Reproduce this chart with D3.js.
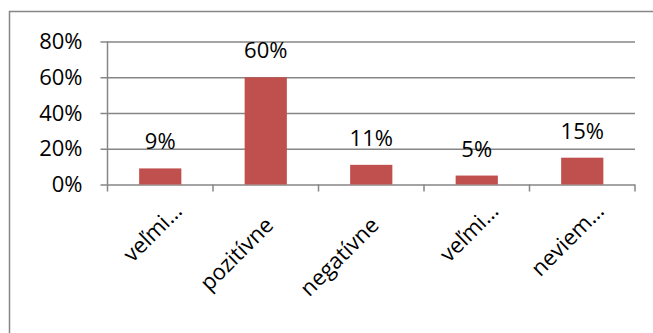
<!DOCTYPE html>
<html>
<head>
<meta charset="utf-8">
<script src="https://cdn.jsdelivr.net/npm/d3@7"></script>
<style>
  body { margin: 0; background: #fff; }
  text { font-family: "Open Sans", sans-serif; fill: #000; }
</style>
</head>
<body>
<div id="chart"></div>
<script>
// data
var categories = ["veľmi…", "pozitívne", "negatívne", "veľmi…", "neviem…"];
var values     = [0.09, 0.60, 0.11, 0.05, 0.15];
var yTicks     = [0, 0.2, 0.4, 0.6, 0.8];

var W = 653, H = 333;
var margin = {top: 41.5, right: 18, bottom: 148.5, left: 107.5};
var width  = W - margin.left - margin.right,
    height = H - margin.top - margin.bottom;
var fontSize = "22px";

var svg = d3.select("#chart").append("svg")
    .attr("width", W)
    .attr("height", H);

// outer chart frame (runs off right and bottom edge)
svg.append("rect")
    .attr("x", 9.5).attr("y", 11.5)
    .attr("width", 700).attr("height", 400)
    .attr("fill", "none")
    .attr("stroke", "#868686")
    .attr("stroke-width", 1.5);

var g = svg.append("g")
    .attr("transform", "translate(" + margin.left + "," + margin.top + ")");

var x = d3.scaleBand().domain(d3.range(categories.length)).range([0, width]).paddingInner(0.6).paddingOuter(0.3);
var xb = d3.scaleBand().domain(d3.range(categories.length)).range([0, width]);
var y = d3.scaleLinear().domain([0, 0.8]).range([height, 0]);

// gridlines + y axis
var yAxis = d3.axisLeft(y)
    .tickValues(yTicks)
    .tickFormat(d3.format(".0%"))
    .tickSize(-width)
    .tickPadding(25);

var yAxisEl = g.append("g").call(yAxis);
yAxisEl.select(".domain").remove();
yAxisEl.selectAll(".tick line")
    .attr("x1", -7)
    .attr("stroke", "#868686")
    .attr("stroke-width", 1.5);
yAxisEl.selectAll(".tick text")
    .style("font-size", fontSize)
    .attr("fill", "#000");

// vertical axis line
g.append("line")
    .attr("x1", 0).attr("x2", 0)
    .attr("y1", 0).attr("y2", height)
    .attr("stroke", "#868686")
    .attr("stroke-width", 1.5);

// category tick marks
g.append("g").selectAll("line")
    .data(d3.range(categories.length + 1))
    .enter().append("line")
    .attr("x1", function (d) { return d * xb.step(); })
    .attr("x2", function (d) { return d * xb.step(); })
    .attr("y1", height).attr("y2", height + 7)
    .attr("stroke", "#868686")
    .attr("stroke-width", 1.5);

// bars
g.append("g").selectAll("rect")
    .data(values)
    .enter().append("rect")
    .attr("x", function (d, i) { return x(i); })
    .attr("y", function (d) { return y(d); })
    .attr("width", x.bandwidth())
    .attr("height", function (d) { return height - y(d); })
    .attr("fill", "#c0504d");

// data labels
g.append("g").selectAll("text")
    .data(values)
    .enter().append("text")
    .attr("x", function (d, i) { return xb(i) + xb.bandwidth() / 2; })
    .attr("y", function (d) { return y(d) - 19; })
    .attr("text-anchor", "middle")
    .style("font-size", fontSize)
    .text(function (d) { return d3.format(".0%")(d); });

// rotated category labels
g.append("g").selectAll("text")
    .data(categories)
    .enter().append("text")
    .attr("transform", function (d, i) {
      var cx = xb(i) + xb.bandwidth() / 2;
      return "translate(" + (cx + 9) + "," + (height + 42) + ") rotate(-45)";
    })
    .attr("x", function (d) { return d.slice(-1) === "…" ? 20 : 0; })
    .attr("text-anchor", "end")
    .style("font-size", fontSize)
    .text(function (d) { return d; });
</script>
</body>
</html>
